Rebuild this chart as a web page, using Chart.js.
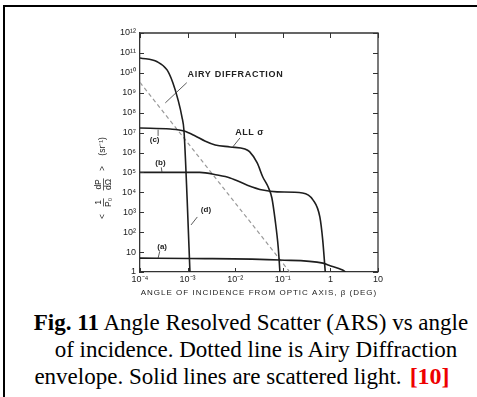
<!DOCTYPE html>
<html lang="en">
<head>
    <meta charset="UTF-8">
    <title>Angle Resolved Scatter vs angle of incidence</title>
    <script src="https://cdn.jsdelivr.net/npm/chart.js@4.4.1/dist/chart.umd.min.js"></script>
    <style>
        body {
            margin: 0;
            background: #fff;
        }
        .page {
            position: relative;
            width: 477px;
            height: 397px;
            overflow: hidden;
            background: #fff;
        }
        .frame {
            position: absolute;
            left: 3px;
            top: 5px;
            right: -10px;
            bottom: -10px;
            border-top: 2px solid #000;
            border-left: 2px solid #000;
        }
        #arsChart {
            position: absolute;
            left: 0;
            top: 0;
        }
        .caption {
            position: absolute;
            left: 0;
            right: 0;
            top: 309px;
            text-align: center;
            font-family: 'Liberation Serif', 'Times New Roman', serif;
            font-size: 23px;
            line-height: 27px;
            color: #000;
            white-space: nowrap;
        }
        .caption .l1 { padding-left: 25px; }
        .caption .l2 { padding-left: 35px; }
        .caption .l3 { padding-left: 7px; }
        .caption .ref {
            color: #e00;
            font-weight: bold;
            font-size: 24px;
            margin-left: 8px;
        }
    </style>
</head>
<body>
    <div class="page">
        <div class="frame"></div>
        <canvas id="arsChart" width="477" height="305"></canvas>
        <div class="caption">
            <div class="l1"><b>Fig. 11</b> Angle Resolved Scatter (ARS) vs angle</div>
            <div class="l2">of incidence. Dotted line is Airy Diffraction</div>
            <div class="l3">envelope. Solid lines are scattered light.<span class="ref">[10]</span></div>
        </div>
    </div>

    <script>
        // Ejes (décadas) y etiquetas
        const xTickValues = [1e-4, 1e-3, 1e-2, 1e-1, 1, 10];
        const xTickLabels = ['10⁻⁴', '10⁻³', '10⁻²', '10⁻¹', '1', '10'];
        const yTickValues = [1, 1e1, 1e2, 1e3, 1e4, 1e5, 1e6, 1e7, 1e8, 1e9, 1e10, 1e11, 1e12];
        const yTickLabels = ['1', '10', '10²', '10³', '10⁴', '10⁵', '10⁶', '10⁷', '10⁸', '10⁹', '10¹⁰', '10¹¹', '10¹²'];

        // Curva (d) - la más alta, cae cerca de 10^-3
        const curveDx = [1e-4, 2.3e-4, 3.7e-4, 4.9e-4, 6.3e-4, 7.6e-4, 8.4e-4, 9.8e-4, 1.12e-3];
        const curveDy = [5.6e10, 3.6e10, 1.4e10, 3.2e9, 4.4e8, 6.2e7, 1.2e7, 4e3, 1];

        // Curva (c) - ALL sigma
        const curveCx = [1e-4, 4.3e-4, 8.4e-4, 1.45e-3, 2.3e-3, 3.8e-3, 7.8e-3, 0.016, 0.020, 0.029, 0.038, 0.049, 0.059, 0.069, 0.080, 0.087];
        const curveCy = [1.7e7, 1.5e7, 1.2e7, 6.8e6, 3.8e6, 2.4e6, 1.9e6, 1.5e6, 1.1e6, 3e5, 5.9e4, 1.9e4, 5.2e3, 4.1e2, 18, 1];

        // Curva (b)
        const curveBx = [1e-4, 1.8e-3, 4.2e-3, 7.8e-3, 0.018, 0.038, 0.076, 0.26, 0.43, 0.60, 0.69, 0.78];
        const curveBy = [1e5, 1e5, 7.4e4, 5.3e4, 2.3e4, 1.3e4, 1.05e4, 9.3e3, 4.2e3, 5.8e2, 40, 1];

        // Curva (a)
        const curveAx = [1e-4, 1.1e-3, 0.087, 0.7, 0.93, 1.8, 2.1];
        const curveAy = [5, 4.8, 4, 2.8, 2.2, 1.26, 1];

        // Envolvente de difracción de Airy (línea punteada)
        const airyX = [1e-4, 0.14];
        const airyY = [3.3e9, 1];

        // Etiquetas dentro del gráfico (coordenadas de datos)
        const notes = [
            { text: 'AIRY DIFFRACTION', x: 1e-3, y: 8e9, spacing: 0.7 },
            { text: 'ALL σ', x: 0.01, y: 9.6e6, spacing: 0.5 },
            { text: '(c)', x: 1.6e-4, y: 4.3e6, spacing: 0 },
            { text: '(b)', x: 2.1e-4, y: 3e5, spacing: 0 },
            { text: '(d)', x: 1.9e-3, y: 1.3e3, spacing: 0 },
            { text: '(a)', x: 2.3e-4, y: 18, spacing: 0 }
        ];
        const leaders = [
            [9.6e-4, 3.2e9, 3.4e-4, 3.1e8],
            [0.0126, 5.4e6, 8.9e-3, 1.9e6],
            [2.4e-4, 6.8e6, 2.4e-4, 1.4e7],
            [2.8e-4, 1.8e5, 2.9e-4, 1e5],
            [1.6e-3, 580, 1.18e-3, 230],
            [2.6e-4, 11, 2.4e-4, 5]
        ];

        function pairs(xs, ys) {
            return xs.map((x, i) => ({ x: x, y: ys[i] }));
        }

        function solid(data) {
            return {
                data: data,
                borderColor: '#1e1e1e',
                borderWidth: 1.6,
                pointRadius: 0,
                fill: false,
                cubicInterpolationMode: 'monotone'
            };
        }

        const tickFont = { family: '"Liberation Sans", Arial, sans-serif', size: 9 };

        // Marco, marcas interiores, títulos y anotaciones
        const decorations = {
            id: 'decorations',
            afterDraw(chart) {
                const ctx = chart.ctx;
                const a = chart.chartArea;
                const xs = chart.scales.x;
                const ys = chart.scales.y;
                ctx.save();

                ctx.strokeStyle = '#333';
                ctx.lineWidth = 1.3;
                ctx.beginPath();
                ctx.moveTo(a.left, a.top);
                ctx.lineTo(a.right, a.top);
                ctx.lineTo(a.right, a.bottom);
                ctx.stroke();

                ctx.lineWidth = 1;
                ctx.beginPath();
                xTickValues.forEach(v => {
                    const px = Math.round(xs.getPixelForValue(v)) + 0.5;
                    ctx.moveTo(px, a.top);
                    ctx.lineTo(px, a.top + 5);
                    ctx.moveTo(px, a.bottom);
                    ctx.lineTo(px, a.bottom - 4);
                });
                yTickValues.forEach(v => {
                    const py = Math.round(ys.getPixelForValue(v)) + 0.5;
                    ctx.moveTo(a.left, py);
                    ctx.lineTo(a.left + 4, py);
                    ctx.moveTo(a.right, py);
                    ctx.lineTo(a.right - 5, py);
                });
                ctx.stroke();

                // Anotaciones
                ctx.fillStyle = '#222';
                ctx.textBaseline = 'middle';
                ctx.textAlign = 'left';
                notes.forEach(n => {
                    ctx.font = (n.spacing ? 'bold 9px' : 'bold 8px') + ' "Liberation Sans", Arial, sans-serif';
                    ctx.letterSpacing = n.spacing + 'px';
                    ctx.fillText(n.text, xs.getPixelForValue(n.x), ys.getPixelForValue(n.y));
                });
                ctx.letterSpacing = '0px';
                ctx.lineWidth = 0.8;
                ctx.beginPath();
                leaders.forEach(l => {
                    ctx.moveTo(xs.getPixelForValue(l[0]), ys.getPixelForValue(l[1]));
                    ctx.lineTo(xs.getPixelForValue(l[2]), ys.getPixelForValue(l[3]));
                });
                ctx.stroke();

                // Título eje X
                ctx.font = '8px "Liberation Sans", Arial, sans-serif';
                ctx.textAlign = 'center';
                ctx.letterSpacing = '1px';
                ctx.fillText('ANGLE OF INCIDENCE FROM OPTIC AXIS, β (DEG)', (a.left + a.right) / 2, a.bottom + 21);
                ctx.letterSpacing = '0px';

                // Título eje Y: < 1/P0 dP/dΩ > (sr^-1), girado
                ctx.translate(a.left - 37, ys.getPixelForValue(1e5) + 5);
                ctx.rotate(-Math.PI / 2);
                ctx.font = '8.5px "Liberation Sans", Arial, sans-serif';
                ctx.fillText('<', -39, 0);
                ctx.fillText('1', -25, -4.5);
                ctx.fillText('P₀', -25, 5.5);
                ctx.fillText('dP', -7, -4.5);
                ctx.fillText('dΩ', -7, 5.5);
                ctx.fillText('>', 9, 0);
                ctx.fillText('(sr⁻¹)', 31, 0);
                ctx.lineWidth = 0.8;
                ctx.beginPath();
                ctx.moveTo(-29, 0.5);
                ctx.lineTo(-21, 0.5);
                ctx.moveTo(-13, 0.5);
                ctx.lineTo(-1, 0.5);
                ctx.stroke();

                ctx.restore();
            }
        };

        const ctx = document.getElementById('arsChart').getContext('2d');
        new Chart(ctx, {
            type: 'line',
            data: {
                datasets: [
                    solid(pairs(curveDx, curveDy)),
                    solid(pairs(curveCx, curveCy)),
                    solid(pairs(curveBx, curveBy)),
                    solid(pairs(curveAx, curveAy)),
                    {
                        data: pairs(airyX, airyY),
                        borderColor: '#999',
                        borderWidth: 1.2,
                        borderDash: [4, 3],
                        pointRadius: 0,
                        fill: false,
                        tension: 0
                    }
                ]
            },
            options: {
                responsive: false,
                animation: false,
                devicePixelRatio: 1,
                layout: {
                    padding: { left: 0, top: 33, right: 99, bottom: 0 }
                },
                plugins: {
                    legend: { display: false },
                    tooltip: { enabled: false }
                },
                scales: {
                    x: {
                        type: 'logarithmic',
                        min: 1e-4,
                        max: 10,
                        afterFit: s => { s.height = 33; },
                        afterBuildTicks: s => { s.ticks = xTickValues.map(v => ({ value: v })); },
                        grid: { display: false, drawTicks: false },
                        border: { display: true, color: '#333', width: 1.3 },
                        ticks: {
                            autoSkip: false,
                            maxRotation: 0,
                            padding: 2,
                            color: '#222',
                            font: tickFont,
                            callback: (v, i) => xTickLabels[i]
                        }
                    },
                    y: {
                        type: 'logarithmic',
                        min: 1,
                        max: 1e12,
                        afterFit: s => { s.width = 140; },
                        afterBuildTicks: s => { s.ticks = yTickValues.map(v => ({ value: v })); },
                        grid: { display: false, drawTicks: false },
                        border: { display: true, color: '#333', width: 1.3 },
                        ticks: {
                            autoSkip: false,
                            padding: 4,
                            color: '#222',
                            font: tickFont,
                            callback: (v, i) => yTickLabels[i]
                        }
                    }
                }
            },
            plugins: [decorations]
        });
    </script>
</body>
</html>
